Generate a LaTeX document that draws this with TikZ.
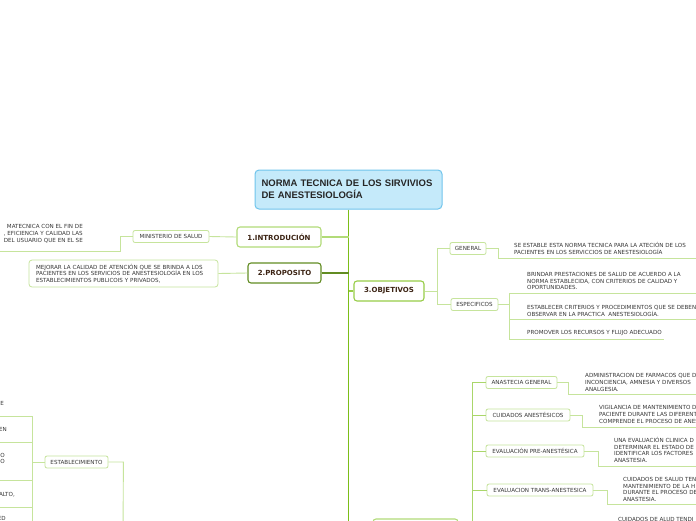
\documentclass[tikz,border=0pt]{standalone}
\usepackage{fontspec}
\setmainfont{DejaVu Sans}
\newfontfamily\rootfont{Liberation Sans}
\usepackage{xcolor}
\definecolor{rootfill}{RGB}{197,234,250}
\definecolor{rootline}{RGB}{112,196,236}
\definecolor{topicline}{RGB}{178,219,120}
\definecolor{objline}{RGB}{152,205,72}
\definecolor{propline}{RGB}{98,140,34}
\definecolor{leafline}{RGB}{198,228,156}
\definecolor{branchline}{RGB}{170,214,106}
\definecolor{trunkgreen}{RGB}{124,190,24}
\definecolor{inkgray}{RGB}{55,55,55}
\definecolor{inkbrown}{RGB}{60,36,20}
\newcommand{\leaffont}{\fontsize{5.6}{6.7}\selectfont}
\newcommand{\topicfont}{\fontsize{7}{8}\selectfont\bfseries}

\begin{document}
\begin{tikzpicture}[x=1pt, y=-1pt,
  topic/.style={draw=topicline, fill=white, rounded corners=3pt, line width=1.1pt, inner sep=0pt, font=\topicfont, text=inkbrown, minimum height=20pt},
  sub/.style={draw=leafline, fill=white, rounded corners=2pt, line width=0.8pt, inner sep=0pt, font=\leaffont, text=inkgray, minimum height=12pt},
  leaf/.style={anchor=base west, align=left, inner sep=0pt, font=\leaffont, text=inkgray},
  tail/.style={anchor=base east, align=right, inner sep=0pt, font=\leaffont, text=inkgray},
  link/.style={leafline, line width=0.9pt},
  mainlink/.style={topicline, line width=1.3pt}]
  \useasboundingbox (0,0) rectangle (696,520);
  \fill[white] (0,0) rectangle (696,520);
  \clip (0,0) rectangle (696,520);

  % central topic and trunk
  \node[draw=rootline, fill=rootfill, rounded corners=4pt, line width=1pt, minimum width=187pt, minimum height=39pt, text width=181pt, inner xsep=3pt, align=left, font=\rootfont\fontsize{9.5}{12}\selectfont\bfseries, text=black!85] (root) at (348.5,189.5) {\hspace*{3.5pt}NORMA TECNICA DE LOS SIRVIVIOS\\\hspace*{3.5pt}DE ANESTESIOLOGÍA};
  \coordinate (trunkend) at (348.5,540);
  \draw[trunkgreen, line width=1.8pt] (root.south) -- (trunkend);

  % 1. introduccion
  \node[topic, minimum width=84pt] (intro) at (279,237) {1.INTRODUCIÓN};
  \node[sub, minimum width=76pt] (minist) at (171,236.5) {MINISTERIO DE SALUD};
  \node[tail] (introtxt) at (83,242) {MATECNICA CON EL FIN DE\\, EFICIENCIA Y CALIDAD LAS\\DEL USUARIO QUE EN EL SE};
  \coordinate (introend) at (-5,251.5);
  \draw[mainlink] (intro.east) -- (intro.east -| root.south);
  \draw[link] (intro.west) -- (minist.east);
  \draw[link] (minist.west) -- ++(-12,0) |- (introend);

  % 2. proposito
  \node[topic, draw=propline, minimum width=73pt] (prop) at (284.5,273) {2.PROPOSITO};
  \node[sub, minimum width=189pt, minimum height=27pt, text width=175pt, align=left, rounded corners=3pt] (proptxt) at (123.5,273.5) {MEJORAR LA CALIDAD DE ATENCIÓN QUE SE BRINDA A LOS\\PACIENTES EN LOS SERVICIOS DE ANESTESIOLOGÍA EN LOS\\ESTABLECIMIENTOS PUBLICOIS Y PRIVADOS,};
  \draw[mainlink, propline] (prop.east) -- (prop.east -| root.south);
  \draw[link] (prop.west) -- (proptxt.east);

  % 3. objetivos
  \node[topic, draw=objline, minimum width=70pt] (obj) at (389,291) {3.OBJETIVOS};
  \node[sub, minimum width=36pt] (gen) at (468,248.5) {GENERAL};
  \node[sub, minimum width=47pt] (esp) at (474.5,304.5) {ESPECIFICOS};
  \draw[mainlink, objline] (obj.west) -- (obj.west -| root.south);
  \draw[link] (obj.east) -- ++(13,0) |- (gen.west);
  \draw[link] (obj.east) -- ++(13,0) |- (esp.west);
  \node[leaf] (gentxt) at (514,254) {SE ESTABLE ESTA NORMA TECNICA PARA LA ATECIÓN DE LOS\\PACIENTES EN LOS SERVICCIOS DE ANESTESIOLOGÍA};
  \coordinate (genend) at (700,258);
  \draw[link] (gen.east) -- ++(12,0) |- (genend);
  \node[leaf] (esp1) at (527,289.7) {BRINDAR PRESTACIONES DE SALUD DE ACUERDO A LA\\NORMA ESTABLECIDA, CON CRITERIOS DE CALIDAD Y\\OPORTUNIDADES.};
  \node[leaf] (esp2) at (527,316) {ESTABLECER CRITERIOS Y PROCEDIMIENTOS QUE SE DEBEN\\OBSERVAR EN LA PRACTICA\ \ ANESTESIOLOGÍA.};
  \node[leaf] (esp3) at (527,334.7) {PROMOVER LOS RECURSOS Y FLUJO ADECUADO};
  \coordinate (esp1end) at (700,293);
  \coordinate (esp2end) at (700,319.5);
  \coordinate (esp3end) at (664,339);
  \draw[link] (esp.east) -- ++(11,0) |- (esp1end);
  \draw[link] (esp.east) -- ++(11,0) |- (esp2end);
  \draw[link] (esp.east) -- ++(11,0) |- (esp3end);

  % next topic (cut by the lower edge)
  \node[topic, minimum width=85pt] (nextt) at (415.5,529) {};
  \node[sub, minimum width=71pt] (anagen) at (521.5,382.5) {ANASTECIA GENERAL};
  \node[sub, minimum width=84pt] (cuid) at (528,415) {CUIDADOS ANESTÉSICOS};
  \node[sub, minimum width=98pt] (preev) at (535,451) {EVALUACIÓN PRE-ANESTÉSICA};
  \node[sub, minimum width=106pt] (transev) at (540,490) {EVALUACION TRANS-ANESTESICA};
  \foreach \k in {anagen,cuid,preev,transev}
    \draw[branchline, line width=1pt] (nextt.east) -- ++(14,0) |- (\k.west);
  \node[leaf] (anatxt) at (585,391) {ADMINISTRACION DE FARMACOS QUE D\\INCONCIENCIA, AMNESIA Y DIVERSOS\\ANALGESIA.};
  \node[leaf] (cuidtxt) at (599,423) {VIGILANCIA DE MANTENIMIENTO D\\PACIENTE DURANTE LAS DIFERENT\\COMPRENDE EL PROCESO DE ANES};
  \node[leaf, font=\fontsize{5.6}{6.4}\selectfont] (pretxt) at (614,462) {UNA EVALUACIÓN CLINICA D\\DETERMINAR EL ESTADO DE\\IDENTIFICAR LOS FACTORES\\ANASTESIA.};
  \node[leaf, font=\fontsize{5.6}{6.4}\selectfont] (transtxt) at (623,501) {CUIDADOS DE SALUD TEN\\MANTENIMIENTO DE LA H\\DURANTE EL PROCESO DE\\ANASTESIA.};
  \node[leaf] (lasttxt) at (618,521) {CUIDADOS DE ALUD TENDI};
  \coordinate (anaend) at (700,394.5);
  \coordinate (cuidend) at (700,427);
  \coordinate (preend) at (700,466);
  \coordinate (transend) at (700,504.5);
  \draw[link] (anagen.east) -- ++(11,0) |- (anaend);
  \draw[link] (cuid.east) -- ++(12,0) |- (cuidend);
  \draw[link] (preev.east) -- ++(14,0) |- (preend);
  \draw[link] (transev.east) -- ++(14,0) |- (transend);

  % establecimiento (left, lower)
  \node[sub, minimum width=63pt] (estab) at (76.5,462) {ESTABLECIMIENTO};
  \coordinate (estabend) at (123,540);
  \draw[link] (estab.east) -- ++(15,0) -- (estabend);
  \node[tail] (t1) at (4,405) {E};
  \node[tail] (t2) at (7,431) {EN};
  \node[tail] (t3) at (5,463.7) {O\\O};
  \node[tail] (t4) at (15,496) {ALTO,};
  \node[tail] (t5) at (6,520) {ED};
  \coordinate (e1end) at (-5,416);
  \coordinate (e2end) at (-5,442);
  \coordinate (e3end) at (-5,480);
  \coordinate (e4end) at (-5,507);
  \coordinate (e5end) at (-5,535);
  \foreach \k in {e1end,e2end,e3end,e4end,e5end}
    \draw[link] (estab.west) -- ++(-12,0) |- (\k);
\end{tikzpicture}
\end{document}
